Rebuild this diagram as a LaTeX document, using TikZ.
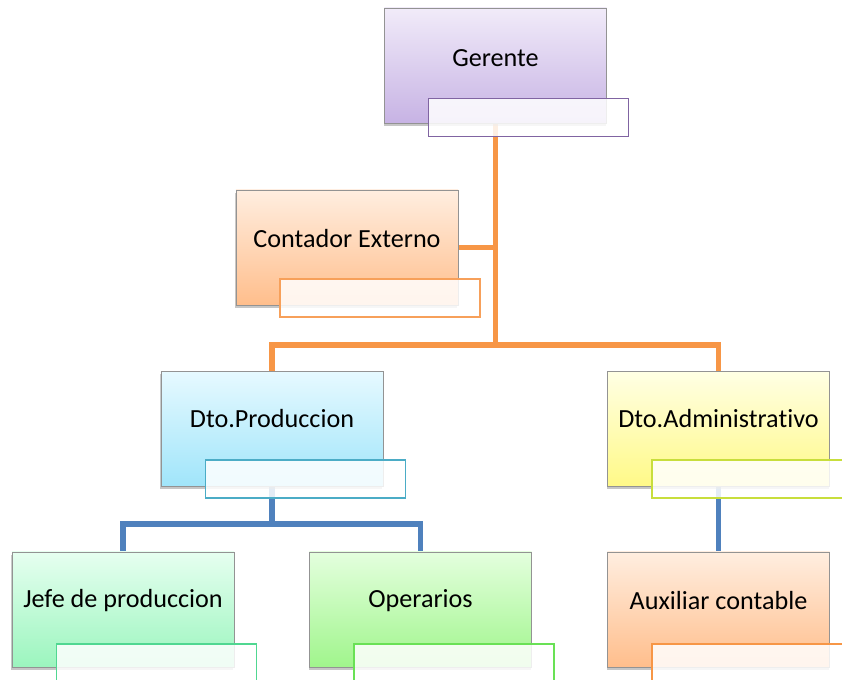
\documentclass[tikz,border=0pt]{standalone}
\usepackage{fontspec}
\setmainfont{Carlito}[Ligatures={NoCommon,NoContextual}]
\usetikzlibrary{shadows}
\pgfdeclarelayer{background}
\pgfsetlayers{background,main}
\definecolor{linOrange}{RGB}{247,150,70}
\definecolor{linBlue}{RGB}{79,129,189}
\definecolor{gerTop}{RGB}{241,235,249}
\definecolor{gerBot}{RGB}{199,179,228}
\definecolor{gerEdge}{RGB}{128,100,162}
\definecolor{contTop}{RGB}{255,238,224}
\definecolor{contBot}{RGB}{255,190,140}
\definecolor{contEdge}{RGB}{247,160,90}
\definecolor{prodTop}{RGB}{230,249,255}
\definecolor{prodBot}{RGB}{160,229,250}
\definecolor{prodEdge}{RGB}{75,172,198}
\definecolor{admTop}{RGB}{255,255,228}
\definecolor{admBot}{RGB}{255,249,135}
\definecolor{admEdge}{RGB}{200,222,60}
\definecolor{jefeTop}{RGB}{230,255,240}
\definecolor{jefeBot}{RGB}{155,245,190}
\definecolor{jefeEdge}{RGB}{80,215,145}
\definecolor{operTop}{RGB}{228,255,222}
\definecolor{operBot}{RGB}{160,245,140}
\definecolor{operEdge}{RGB}{105,225,85}
\tikzset{
  mainbox/.style 2 args={draw=gray!85, line width=0.5pt, top color=#1, bottom color=#2,
    minimum width=5.55cm, minimum height=2.875cm, inner sep=0pt,
    drop shadow={opacity=0.45, shadow xshift=-0.4pt, shadow yshift=-2pt}},
  subbox/.style={draw=#1, line width=1pt, fill=white, fill opacity=0.85,
    minimum width=5cm, minimum height=0.95cm, inner sep=0pt},
  lbl/.style={font=\fontsize{18.6}{22}\selectfont, inner sep=0pt},
  link/.style={draw=#1, line width=3.6pt},
}
\begin{document}
\begin{tikzpicture}[x=0.025cm,y=-0.025cm]
  \useasboundingbox (0,0) rectangle (842,679);

  \node[mainbox={gerTop}{gerBot}] (Ger) at (495.5,65.5){};
  \node[lbl] (GerL) at (495.5,58){Gerente};
  \node[subbox=gerEdge] (Gersub) at (528.5,117.5){};

  \node[mainbox={contTop}{contBot}] (Cont) at (347,247.5){};
  \node[lbl] (ContL) at (347,239){Contador Externo};
  \node[subbox=contEdge] (Contsub) at (380,298){};

  \node[mainbox={prodTop}{prodBot}] (DProd) at (272,429){};
  \node[lbl] (DProdL) at (272,419){Dto.Produccion};
  \node[subbox=prodEdge] (DProdsub) at (305.5,479){};

  \node[mainbox={admTop}{admBot}] (DAdm) at (718.5,429){};
  \node[lbl] (DAdmL) at (718.5,419){Dto.Administrativo};
  \node[subbox=admEdge] (DAdmsub) at (752,479){};

  \node[mainbox={jefeTop}{jefeBot}] (Jefe) at (123,609.5){};
  \node[lbl] (JefeL) at (123,601){Jefe de produccion};
  \node[subbox=jefeEdge] (Jefesub) at (156.5,663){};

  \node[mainbox={operTop}{operBot}] (Oper) at (420.5,609.5){};
  \node[lbl] (OperL) at (420.5,601){Operarios};
  \node[subbox=operEdge] (Opersub) at (454,663){};

  \node[mainbox={contTop}{contBot}] (Aux) at (718.5,609.5){};
  \node[lbl] (AuxL) at (718.5,601){Auxiliar contable};
  \node[subbox=linOrange] (Auxsub) at (752,663){};

  % lines go behind the boxes
  \begin{pgfonlayer}{background}
    \coordinate (Top) at (495.5,345);
    \coordinate (Mid) at (272,524);
    \draw[link=linOrange] (Ger) -- (Top);
    \draw[link=linOrange] (Cont) -- (Cont -| Ger);
    \draw[link=linOrange] (Top) -| (DProd);
    \draw[link=linOrange] (Top) -| (DAdm);
    \draw[link=linBlue] (DProd) -- (Mid);
    \draw[link=linBlue] (Mid) -| (Jefe);
    \draw[link=linBlue] (Mid) -| (Oper);
    \draw[link=linBlue] (DAdm) -- (Aux);
  \end{pgfonlayer}
\end{tikzpicture}
\end{document}
